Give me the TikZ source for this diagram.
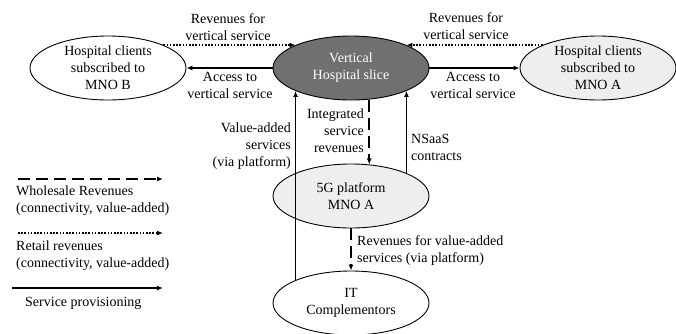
\documentclass[tikz,border=0pt]{standalone}
\usepackage{fontspec}
\setmainfont{Liberation Serif}
\usetikzlibrary{shapes.geometric,arrows.meta}
\definecolor{slicefill}{RGB}{112,112,112}
\definecolor{lightfill}{RGB}{238,238,238}

\begin{document}
\begin{tikzpicture}[x=1pt,y=-1pt,
  txt/.style={font=\fontsize{14}{17}\selectfont},
  actor/.style={ellipse,draw,line width=0.9pt,minimum width=156pt,minimum height=64pt,
                inner sep=0pt,align=center,txt},
  lbl/.style={txt,inner sep=0pt},
  tip/.style={-{Latex[length=6pt,width=5pt]}},
  service/.style={tip,line width=1.6pt},
  wholesale/.style={tip,line width=1.6pt,dash pattern=on 12pt off 6pt},
  retail/.style={tip,line width=1.6pt,dash pattern=on 1.6pt off 1.6pt}]
\useasboundingbox (0,0) rectangle (676,333);

% actors
\node[actor] (hb) at (108,68) {Hospital clients\\subscribed to\\MNO B};
\node[actor,fill=slicefill,text=white] (slice) at (351,68) {Vertical\\Hospital slice};
\node[actor,fill=lightfill] (ha) at (598,68) {Hospital clients\\subscribed to\\MNO A};
\node[actor,fill=lightfill] (p5g) at (351,196) {5G platform\\MNO A};
\node[actor] (it) at (351,303) {IT\\Complementors};

% flows between actors
\draw[retail] (hb.north east) -- (slice.north west);
\draw[service] (slice.west) -- (hb.east);
\draw[retail] (ha.north west) -- (slice.north east);
\draw[service] (slice.east) -- (ha.west);
\draw[service] (it.north west) -- (slice.south west);
\draw[wholesale] (slice.-60) -- (p5g.60);
\draw[service] (p5g.north east) -- (slice.south east);
\draw[wholesale] (p5g.south) -- (it.north);

% flow labels
\node[lbl,align=center] (l1) at (228,27) {Revenues for\\vertical service};
\node[lbl,align=center] (l2) at (230,85) {Access to\\vertical service};
\node[lbl,align=center] (l3) at (466,26) {Revenues for\\vertical service};
\node[lbl,align=center] (l4) at (473,85) {Access to\\vertical service};
\node[lbl,align=right,anchor=east] (l5) at (291,146) {Value-added\\services\\(via platform)};
\node[lbl,align=right,anchor=east] (l6) at (364,131) {Integrated\\service\\revenues};
\node[lbl,align=left,anchor=west] (l7) at (411,147) {NSaaS\\contracts};
\node[lbl,align=left,anchor=west] (l8) at (357,251) {Revenues for value-added\\services (via platform)};

% legend
\coordinate (wa) at (18,179);
\coordinate (wb) at (163,179);
\coordinate (ra) at (18,233);
\coordinate (rb) at (163,233);
\coordinate (sa) at (12,288);
\coordinate (sb) at (163,288);
\draw[wholesale] (wa) -- (wb);
\draw[retail] (ra) -- (rb);
\draw[service] (sa) -- (sb);
\node[lbl,align=left,anchor=west] (k1) at (16,201) {Wholesale Revenues\\(connectivity, value-added)};
\node[lbl,align=left,anchor=west] (k2) at (16,256) {Retail revenues\\(connectivity, value-added)};
\node[lbl,anchor=west] (k3) at (25,303) {Service provisioning};
\end{tikzpicture}
\end{document}
